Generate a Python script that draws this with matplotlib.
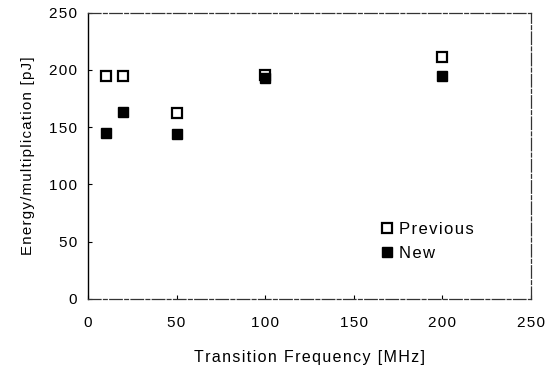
import matplotlib
matplotlib.use("Agg")
import matplotlib.pyplot as plt

plt.rcParams['font.family'] = ['Liberation Sans', 'DejaVu Sans']

# data
freq_mhz = [10, 20, 50, 100, 200]
energy_previous = [195, 195, 162, 196, 211]
energy_new = [145, 163, 144, 193, 195]

x_ticks = [0, 50, 100, 150, 200, 250]
y_ticks = [0, 50, 100, 150, 200, 250]

HAIR = '\u200a'


def spaced(s):
    # the scanned original has wide letter spacing
    return HAIR.join(s)


fig = plt.figure(figsize=(5.52, 3.67), dpi=100)
ax = fig.add_axes([0.1594, 0.1853, 0.8026, 0.7801])

ax.plot(freq_mhz, energy_previous, ls='none', marker='s', ms=7.5,
        mfc='white', mec='black', mew=1.6, label=spaced('Previous'))
ax.plot(freq_mhz, energy_new, ls='none', marker='s', ms=7.5,
        mfc='black', mec='black', mew=1.0, label=spaced('New'))

ax.set_xlim(0, 250)
ax.set_ylim(0, 250)
ax.set_xticks(x_ticks)
ax.set_xticklabels([spaced(str(t)) for t in x_ticks])
ax.set_yticks(y_ticks)
ax.set_yticklabels([spaced(str(t)) for t in y_ticks])
ax.tick_params(direction='in', length=3, width=0.8, labelsize=11,
               colors='black')
ax.tick_params(axis='x', pad=12.5)
ax.tick_params(axis='y', pad=8)

ax.spines['left'].set_color('black')
ax.spines['left'].set_linewidth(1.0)
for side in ['top', 'right', 'bottom']:
    ax.spines[side].set_color('#333333')
    ax.spines[side].set_linewidth(0.9)
    ax.spines[side].set_linestyle((0, (10, 2, 3, 2)))

ax.set_xlabel(spaced('Transition Frequency [MHz]'), fontsize=11.5,
              labelpad=14)
ax.set_ylabel(spaced('Energy/multiplication [pJ]'), fontsize=10.8,
              labelpad=10)

leg = ax.legend(loc='lower left', bbox_to_anchor=(0.641, 0.111),
                frameon=False, fontsize=12, handletextpad=0.25,
                handlelength=1.0, labelspacing=0.53, borderaxespad=0)

fig.savefig('out.png', dpi=100)
